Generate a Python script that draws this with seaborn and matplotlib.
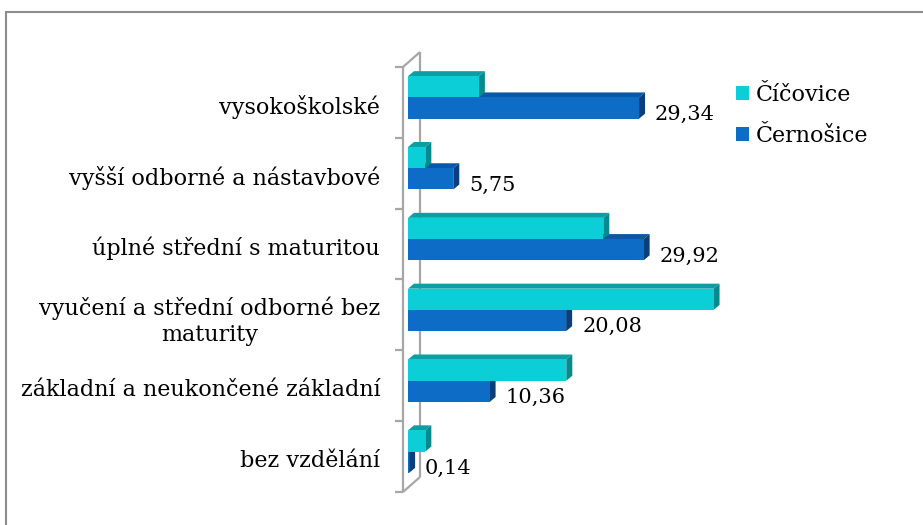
import matplotlib

matplotlib.use("Agg")
import matplotlib.pyplot as plt
import matplotlib.transforms as mtransforms
from matplotlib.lines import Line2D
from matplotlib.patches import Patch, Polygon, Rectangle
import pandas as pd
import seaborn as sns

CATEGORIES = [
    "vysokoškolské",
    "vyšší odborné a nástavbové",
    "úplné střední s maturitou",
    "vyučení a střední odborné bez\nmaturity",
    "základní a neukončené základní",
    "bez vzdělání",
]
SERIES = ["Číčovice", "Černošice"]
CICOVICE = [9.0, 2.2, 24.8, 38.8, 20.1, 2.2]
CERNOSICE = [29.34, 5.75, 29.92, 20.08, 10.36, 0.14]

FRONT = {"Číčovice": "#0bced6", "Černošice": "#0d6cc6"}
TOP = {"Číčovice": "#0a9fa3", "Černošice": "#0b58a6"}
SIDE = {"Číčovice": "#078a8e", "Černošice": "#0a3f7c"}
WALL = "#a6a6a6"
FONT = "DejaVu Serif"

W, H = 923, 525
DEPTH = (6, 5)  # px, right / up

df = pd.DataFrame(
    {
        "kategorie": CATEGORIES * 2,
        "hodnota": CICOVICE + CERNOSICE,
        "obec": [SERIES[0]] * len(CATEGORIES) + [SERIES[1]] * len(CATEGORIES),
    }
)

sns.set_theme(style="white")
plt.rcParams["font.family"] = [FONT, "DejaVu Sans"]
plt.rcParams["text.color"] = "black"

fig = plt.figure(figsize=(W / 100, H / 100), dpi=100)
# axes box in pixels: left 408, top 62, width 315, height 425
ax = fig.add_axes([408 / W, 1 - 487 / H, 315 / W, 425 / H])
ax.patch.set_visible(False)

sns.barplot(
    data=df,
    y="kategorie",
    x="hodnota",
    hue="obec",
    hue_order=SERIES,
    palette=[FRONT[s] for s in SERIES],
    width=0.6,
    saturation=1,
    orient="h",
    legend=False,
    linewidth=0,
    ax=ax,
    zorder=3,
)
ax.set_xlim(0, 40)
ax.set_ylim(len(CATEGORIES) - 0.5, -0.5)

for s in ax.spines.values():
    s.set_visible(False)
ax.set_xticks([])
ax.set_xlabel("")
ax.set_ylabel("")
ax.tick_params(axis="y", left=False, pad=14, labelsize=16, colors="black")
ax.set_yticks(range(len(CATEGORIES)))
ax.set_yticklabels(CATEGORIES, multialignment="center", linespacing=1.2)
shift = mtransforms.ScaledTranslation(0, -0.07, fig.dpi_scale_trans)
for lab in ax.get_yticklabels():
    lab.set_transform(lab.get_transform() + shift)

# 3D faces of the bars
ident = mtransforms.IdentityTransform()
n = len(CATEGORIES)
bars = [p for p in ax.patches if isinstance(p, Rectangle)]
dx, dy = DEPTH
for i, bar in enumerate(bars):
    s = SERIES[i // n]
    bb = bar.get_bbox()
    (x0, y0), (x1, y1) = ax.transData.transform([(bb.x0, bb.y0), (bb.x1, bb.y1)])
    x0, x1 = min(x0, x1), max(x0, x1)
    y0, y1 = min(y0, y1), max(y0, y1)
    top = [(x0, y1), (x1, y1), (x1 + dx, y1 + dy), (x0 + dx, y1 + dy)]
    side = [(x1, y0), (x1, y1), (x1 + dx, y1 + dy), (x1 + dx, y0 + dy)]
    z = 2 if s == SERIES[1] else 2.5
    ax.add_patch(Polygon(top, closed=True, transform=ident, facecolor=TOP[s],
                         edgecolor="none", clip_on=False, zorder=z))
    ax.add_patch(Polygon(side, closed=True, transform=ident, facecolor=SIDE[s],
                         edgecolor="none", clip_on=False, zorder=z))

# value labels (Černošice)
for i, v in enumerate(CERNOSICE):
    ax.annotate(
        f"{v:.2f}".replace(".", ","),
        xy=(v, i + 0.15),
        xytext=(11.5, -4.5),
        textcoords="offset points",
        ha="left",
        va="center",
        fontsize=15,
        color="black",
        zorder=5,
    )


# 3D wall (front line, back line, connectors, ticks)
def px(x, y):
    return x / W, 1 - y / H


wall_kw = dict(color=WALL, lw=1.6, transform=fig.transFigure, solid_capstyle="butt")
lines = [
    ([403, 403], [67, 492]),
    ([420, 420], [52, 477]),
    ([403, 420], [67, 52]),
    ([403, 420], [492, 477]),
]
for xs, ys in lines:
    p0, p1 = px(xs[0], ys[0]), px(xs[1], ys[1])
    fig.add_artist(Line2D([p0[0], p1[0]], [p0[1], p1[1]], zorder=-1, **wall_kw))
for k in range(n + 1):
    yk = ax.transData.transform((0, k - 0.5))[1]
    yk_px = H - yk + 5
    p0, p1 = px(395, yk_px), px(403, yk_px)
    fig.add_artist(Line2D([p0[0], p1[0]], [p0[1], p1[1]], zorder=-1, **wall_kw))

# outer frame
fig.add_artist(Rectangle(px(6, 560), 1.1, (560 - 12) / H, transform=fig.transFigure,
                         fill=False, edgecolor="#8c8c8c", lw=1.5, zorder=-2))

handles = [Patch(facecolor=FRONT[s], edgecolor="none", label=s) for s in SERIES]
fig.legend(
    handles=handles,
    loc="upper left",
    bbox_to_anchor=px(716, 64),
    frameon=False,
    fontsize=16,
    handlelength=0.6,
    handleheight=0.6,
    handletextpad=0.3,
    labelspacing=0.85,
)

fig.savefig("out.png", dpi=100)
plt.close(fig)
